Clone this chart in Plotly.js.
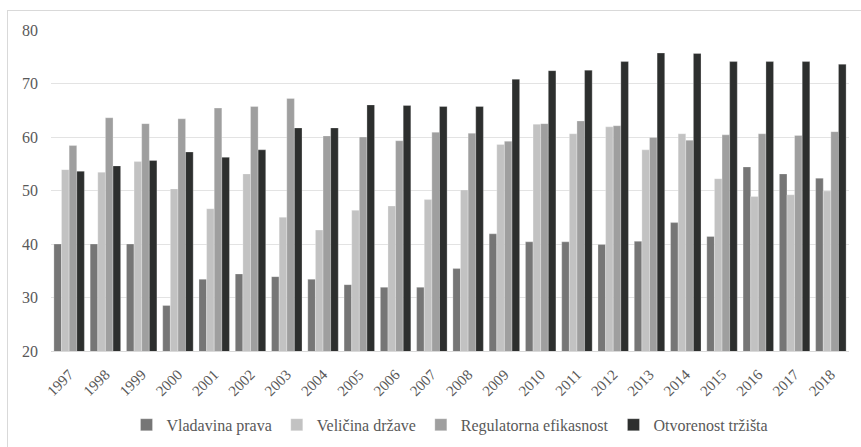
<!DOCTYPE html>
<html>
<head>
<meta charset="utf-8">
<script src="https://cdn.plot.ly/plotly-3.0.1.min.js"></script>
<style>
  html, body { margin:0; padding:0; background:#ffffff; overflow:hidden; }
  #frame { position:absolute; left:7px; top:10px; width:900px; height:500px; border:1px solid #d9d9d9; box-sizing:border-box; }
  #chart { position:absolute; left:0; top:0; width:861px; height:447px; }
</style>
</head>
<body>
<div id="frame"></div>
<div id="chart"></div>
<script>
const years = ['1997','1998','1999','2000','2001','2002','2003','2004','2005','2006','2007','2008','2009','2010','2011','2012','2013','2014','2015','2016','2017','2018'];
const vladavinaPrava = [40.0, 40.0, 40.0, 28.5, 33.4, 34.4, 33.9, 33.4, 32.4, 31.9, 31.9, 35.4, 41.9, 40.4, 40.4, 39.9, 40.5, 44.0, 41.4, 54.4, 53.1, 52.3];
const velicinaDrzave = [53.9, 53.4, 55.4, 50.3, 46.6, 53.1, 45.0, 42.6, 46.3, 47.1, 48.3, 50.1, 58.6, 62.4, 60.6, 61.9, 57.6, 60.6, 52.2, 48.9, 49.2, 49.9];
const regulatornaEfikasnost = [58.4, 63.6, 62.5, 63.4, 65.4, 65.7, 67.2, 60.2, 60.0, 59.3, 60.9, 60.7, 59.2, 62.5, 63.0, 62.1, 59.9, 59.4, 60.4, 60.6, 60.3, 61.0];
const otvorenostTrzista = [53.6, 54.6, 55.6, 57.2, 56.2, 57.6, 61.7, 61.7, 66.0, 65.9, 65.7, 65.7, 70.8, 72.4, 72.5, 74.1, 75.7, 75.6, 74.1, 74.1, 74.1, 73.6];
const seriesNames = ['Vladavina prava', 'Veličina države', 'Regulatorna efikasnost', 'Otvorenost tržišta'];
const seriesColors = ['#767676', '#c2c2c2', '#9f9f9f', '#2d2f2e'];
const seriesValues = [vladavinaPrava, velicinaDrzave, regulatornaEfikasnost, otvorenostTrzista];

const font = "'Liberation Serif', 'Times New Roman', Times, serif";
const traces = seriesValues.map((vals, i) => ({
  type: 'bar',
  x: years,
  y: vals,
  name: seriesNames[i],
  marker: { color: seriesColors[i], line: { width: 0.6, color: 'rgba(255,255,255,0.45)' } },
  hoverinfo: 'x+y+name'
}));

const layout = {
  width: 861, height: 447,
  margin: { l: 51, r: 12, t: 30, b: 96, autoexpand: false },
  paper_bgcolor: 'rgba(0,0,0,0)',
  plot_bgcolor: 'rgba(0,0,0,0)',
  font: { family: font, color: '#595959' },
  barmode: 'group',
  bargap: 0.16,
  bargroupgap: 0,
  showlegend: true,
  legend: {
    orientation: 'h', x: 0.5, xanchor: 'center', y: -0.23, yanchor: 'middle',
    font: { family: font, size: 16, color: '#595959' },
    traceorder: 'normal'
  },
  xaxis: {
    type: 'category',
    automargin: false,
    tickangle: -45,
    tickfont: { family: font, size: 15, color: '#595959' },
    showgrid: false,
    showline: true, linecolor: '#d9d9d9', linewidth: 1,
    ticks: '', ticklabelstandoff: 8
  },
  yaxis: {
    automargin: false,
    range: [20, 80],
    dtick: 10,
    tickfont: { family: font, size: 16, color: '#595959' },
    gridcolor: '#e3e3e3', gridwidth: 1,
    zeroline: false, showline: false, ticks: '',
    ticklabelstandoff: 12
  }
};

Plotly.newPlot('chart', traces, layout, { displayModeBar: false, staticPlot: true });
</script>
</body>
</html>
